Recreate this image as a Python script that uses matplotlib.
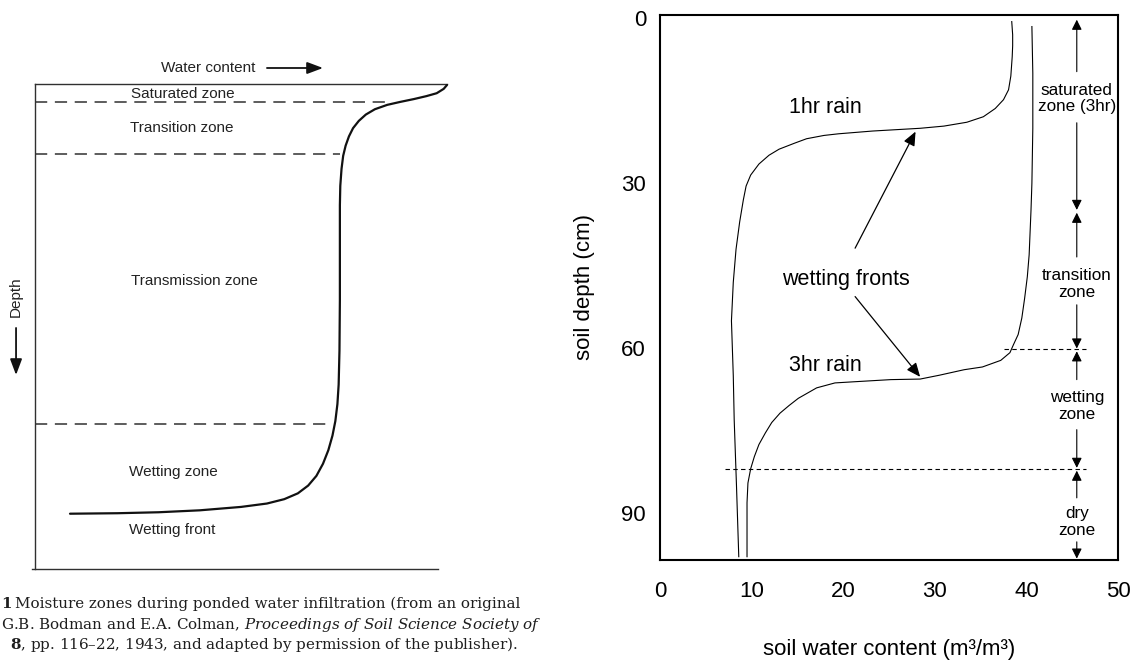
import matplotlib
matplotlib.use('Agg')
import matplotlib.pyplot as plt

plt.rcParams['font.family'] = ['Liberation Sans', 'DejaVu Sans']
plt.rcParams['mathtext.fontset'] = 'custom'
plt.rcParams['mathtext.rm'] = 'DejaVu Serif'
plt.rcParams['mathtext.it'] = 'DejaVu Serif:italic'
plt.rcParams['mathtext.bf'] = 'DejaVu Serif:bold'

# ---------------- right panel data ----------------
x_ticks = [0, 10, 20, 30, 40, 50]
y_ticks = [0, 30, 60, 90]

rain1_theta = [38.4, 38.5, 38.5, 38.45, 38.3, 38.05, 37.5, 36.6, 35.3, 33.5, 31.0, 28.4,
               23.2, 19.5, 17.9, 16.0, 14.7, 13.0, 11.9, 10.8, 9.9, 9.4, 9.1, 8.7,
               8.3, 8.0, 7.8, 8.0, 8.1, 8.35, 8.6]
rain1_depth = [0.6, 3, 5, 7, 10.5, 13, 14.8, 16.4, 17.9, 18.9, 19.6, 20.0,
               20.5, 21.0, 21.3, 21.9, 22.7, 23.8, 24.9, 26.5, 28.5, 30.5, 33, 37,
               42, 48, 55, 65, 73, 85, 97.9]

rain3_theta = [40.6, 40.7, 40.7, 40.6, 40.5, 40.3, 40.1, 39.8, 39.5, 39.1, 38.6, 38.2,
               37.2, 35.2, 33.2, 30.5, 28.4, 25.2, 21.1, 19.1, 17.1, 15.1, 14.1, 13.1,
               12.2, 11.5, 10.8, 10.3, 9.9, 9.75, 9.6, 9.5, 9.5]
rain3_depth = [1.5, 10, 20, 30, 35, 43, 47, 51, 54.5, 57.5, 59.3, 60.8,
               62.2, 63.4, 63.9, 64.9, 65.6, 65.7, 66.1, 66.3, 67.2, 69.1, 70.4, 71.8,
               73.5, 75.4, 77.5, 79.7, 81.9, 83.2, 84.5, 88.1, 97.9]

zone_bounds = [0, 35.1, 60.3, 82.0, 98.5]
zone_labels = ['saturated\nzone (3hr)', 'transition\nzone', 'wetting\nzone', 'dry\nzone']
zone_label_depth = [14.6, 48.3, 70.5, 91.6]
zone_gaps = [(9.7, 19.0), (43.4, 52.1), (65.7, 74.8), (87.2, 95.2)]
zone_x = 45.5

dash_depths = [60.1, 82.0]
dash_start = [37.6, 7.1]
dash_end = 46.5

# ---------------- left panel (schematic) data ----------------
left_theta = [100, 99.2, 97.5, 95.0, 92.0, 88.6, 85.5, 82.5, 80.3, 78.6, 77.2, 76.2,
              75.4, 74.8, 74.4, 74.1, 74.0, 74.0, 73.9, 73.7, 73.4, 72.9, 72.2, 71.2,
              69.9, 68.3, 66.3, 63.8, 60.5, 56.3, 50.0, 40.0, 30.0, 20.0, 8.5]
left_depth = [0.2, 1.0, 1.9, 2.5, 3.1, 3.7, 4.3, 5.2, 6.3, 7.6, 9.1, 10.8,
              12.7, 14.8, 17.5, 21.0, 25.0, 44.5, 55.0, 62.0, 66.0, 69.5, 72.5, 75.5,
              78.3, 80.8, 82.8, 84.4, 85.6, 86.5, 87.2, 87.9, 88.3, 88.5, 88.6]
left_dash_depth = [3.7, 14.4, 70.1]
left_dash_end = [86.2, 74.0, 70.9]
left_labels = ['Saturated zone', 'Transition zone', 'Transmission zone',
               'Wetting zone', 'Wetting front']
left_label_pos = [(35.9, 2.1), (35.7, 9.1), (38.6, 40.6), (33.5, 80.0), (33.3, 92.0)]

caption_lines = [
    r"Moisture zones during ponded water infiltration (from an original",
    r"G.B. Bodman and E.A. Colman, $\mathit{Proceedings\ of\ Soil\ Science\ Society\ of}$",
    r"$\mathbf{8}$, pp. 116–22, 1943, and adapted by permission of the publisher).",
]

W, H = 1136, 662
fig = plt.figure(figsize=(W / 100, H / 100), dpi=100)
fig.patch.set_facecolor('white')

# caption overlay (pixel coords)
axC = fig.add_axes([0, 0, 1, 1])
axC.set_xlim(0, W)
axC.set_ylim(H, 0)
axC.axis('off')
cap_kw = dict(family='DejaVu Serif', fontsize=10.9, color='#1e1e1e', va='baseline', ha='left')
axC.text(1, 608, r"$\mathbf{1}$", **cap_kw)
axC.text(15, 608, caption_lines[0], **cap_kw)
axC.text(1, 629, caption_lines[1], **cap_kw)
axC.text(10, 649, caption_lines[2], **cap_kw)

# ---------------- left panel ----------------
axL = fig.add_axes([35 / W, (H - 569) / H, 412 / W, 485 / H])
axL.set_xlim(0, 100)
axL.set_ylim(100, 0)
axL.axis('off')
box_c = '#303030'
axL.plot([0, 100], [0, 0], color=box_c, lw=1.0, clip_on=False)
axL.plot([0, 0], [0, 100], color=box_c, lw=1.0, clip_on=False)
axL.plot([-0.7, 97.8], [100, 100], color=box_c, lw=1.0, clip_on=False)
axL.plot(left_theta, left_depth, color='#111111', lw=1.6, clip_on=False,
         solid_capstyle='round', solid_joinstyle='round')
for d, e in zip(left_dash_depth, left_dash_end):
    axL.plot([0, e], [d, d], color='#303030', lw=1.1, ls=(0, (8, 5)), clip_on=False)
for lab, (x, y) in zip(left_labels, left_label_pos):
    axL.text(x, y, lab, ha='center', va='center', fontsize=11, color='#222222')
axL.text(42, -3.3, 'Water content', ha='center', va='center', fontsize=11,
         color='#222222', clip_on=False)
axL.annotate('', xy=(69.9, -3.3), xytext=(56.3, -3.3), annotation_clip=False,
             arrowprops=dict(arrowstyle='-|>,head_length=0.8,head_width=0.3',
                             color='#111111', lw=1.3, mutation_scale=12,
                             shrinkA=0, shrinkB=0))
axL.text(-4.6, 43.9, 'Depth', ha='center', va='center', rotation=90, fontsize=11,
         color='#222222', clip_on=False)
axL.annotate('', xy=(-4.6, 60.0), xytext=(-4.6, 50.3), annotation_clip=False,
             arrowprops=dict(arrowstyle='-|>,head_length=0.8,head_width=0.3',
                             color='#111111', lw=1.3, mutation_scale=12,
                             shrinkA=0, shrinkB=0))

# ---------------- right panel ----------------
ax = fig.add_axes([660 / W, (H - 560) / H, 458 / W, 545 / H])
ax.plot(rain1_theta, rain1_depth, color='black', lw=0.8, solid_joinstyle='round')
ax.plot(rain3_theta, rain3_depth, color='black', lw=0.8, solid_joinstyle='round')
ax.set_xlim(0, 50)
ax.set_ylim(98.5, -0.6)
ax.set_xticks(x_ticks)
ax.set_yticks(y_ticks)
ax.tick_params(axis='both', length=0, labelsize=16)
ax.tick_params(axis='x', pad=15)
ax.tick_params(axis='y', pad=10)
for s in ax.spines.values():
    s.set_linewidth(1.5)
    s.set_zorder(5)
ax.set_xlabel('soil water content (m³/m³)', fontsize=16, labelpad=27)
ax.set_ylabel('soil depth (cm)', fontsize=16, labelpad=19)

for d, x0 in zip(dash_depths, dash_start):
    ax.plot([x0, dash_end], [d, d], color='black', lw=0.8, ls=(0, (4, 3)))

ax.text(18.1, 17.2, '1hr rain', ha='center', va='baseline', fontsize=15.5)
ax.text(20.3, 48.5, 'wetting fronts', ha='center', va='baseline', fontsize=15.5)
ax.text(18.0, 64.2, '3hr rain', ha='center', va='baseline', fontsize=15.5)

front_arrow = dict(arrowstyle='-|>,head_length=0.7,head_width=0.3', color='black',
                   lw=0.9, mutation_scale=12, shrinkA=0, shrinkB=0)
ax.annotate('', xy=(27.9, 20.6), xytext=(21.3, 41.8), arrowprops=front_arrow)
ax.annotate('', xy=(28.4, 65.2), xytext=(21.3, 50.6), arrowprops=front_arrow)

zone_arrow = dict(arrowstyle='-|>,head_length=0.6,head_width=0.3', color='black',
                  lw=0.8, mutation_scale=10, shrinkA=0, shrinkB=1)
for i, lab in enumerate(zone_labels):
    top, bot = zone_bounds[i], zone_bounds[i + 1]
    g0, g1 = zone_gaps[i]
    ax.annotate('', xy=(zone_x, top), xytext=(zone_x, g0), arrowprops=zone_arrow,
                annotation_clip=False)
    ax.annotate('', xy=(zone_x, bot), xytext=(zone_x, g1), arrowprops=zone_arrow,
                annotation_clip=False)
    ax.text(zone_x, zone_label_depth[i], lab, ha='center', va='center', fontsize=12.3,
            linespacing=1.15)

fig.savefig('out.png', dpi=100)
